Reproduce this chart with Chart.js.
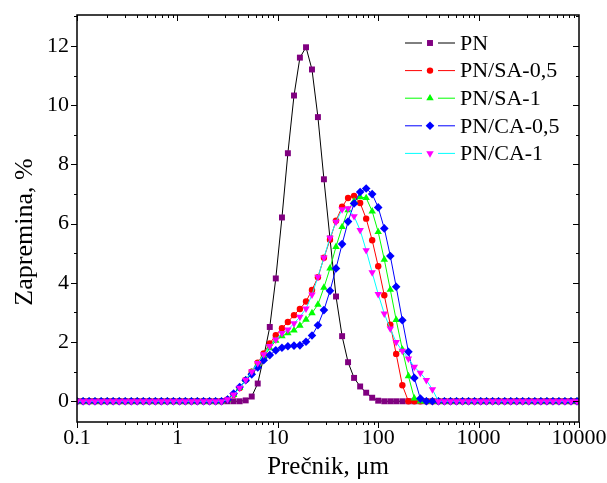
<!DOCTYPE html>
<html>
<head>
<meta charset="utf-8">
<script src="https://cdn.jsdelivr.net/npm/chart.js@4/dist/chart.umd.min.js"></script>
<style>
  body { margin: 0; background: #fff; }
  canvas { display: block; }
</style>
</head>
<body>
<canvas id="sizeChart" width="607" height="483"></canvas>
<script>
// particle size classes, um
const sizes = [
  0.1, 0.115, 0.132, 0.151, 0.174, 0.2, 0.229, 0.263, 0.302, 0.347,
  0.398, 0.457, 0.525, 0.603, 0.692, 0.794, 0.912, 1.05, 1.2, 1.38,
  1.58, 1.82, 2.09, 2.4, 2.75, 3.16, 3.63, 4.17, 4.79, 5.5,
  6.31, 7.24, 8.32, 9.55, 11, 12.6, 14.5, 16.6, 19.1, 21.9,
  25.1, 28.8, 33.1, 38, 43.7, 50.1, 57.5, 66.1, 75.9, 87.1,
  100, 115, 132, 151, 174, 200, 229, 263, 302, 347,
  398, 457, 525, 603, 692, 794, 912, 1050, 1200, 1380,
  1580, 1820, 2090, 2400, 2750, 3160, 3630, 4170, 4790, 5500,
  6310, 7240, 8320, 9550
];

// volume, %
const pn = [
  0, 0, 0, 0, 0, 0, 0, 0, 0, 0,
  0, 0, 0, 0, 0, 0, 0, 0, 0, 0,
  0, 0, 0, 0, 0, 0, 0, 0, 0.03, 0.16,
  0.6, 1.5, 2.51, 4.15, 6.21, 8.38, 10.33, 11.61, 11.96, 11.21,
  9.6, 7.5, 5.5, 3.54, 2.2, 1.32, 0.79, 0.5, 0.29, 0.12,
  0.02, 0, 0, 0, 0, 0, 0, 0, 0, 0,
  0, 0, 0, 0, 0, 0, 0, 0, 0, 0,
  0, 0, 0, 0, 0, 0, 0, 0, 0, 0,
  0, 0, 0, 0
];
const pnSa05 = [
  0, 0, 0, 0, 0, 0, 0, 0, 0, 0,
  0, 0, 0, 0, 0, 0, 0, 0, 0, 0,
  0, 0, 0, 0, 0, 0.06, 0.22, 0.45, 0.72, 1.0,
  1.3, 1.62, 1.95, 2.23, 2.47, 2.68, 2.91, 3.12, 3.37, 3.76,
  4.19, 4.85, 5.46, 6.1, 6.57, 6.87, 6.94, 6.7, 6.17, 5.44,
  4.56, 3.58, 2.59, 1.6, 0.54, 0, 0, 0, 0, 0,
  0, 0, 0, 0, 0, 0, 0, 0, 0, 0,
  0, 0, 0, 0, 0, 0, 0, 0, 0, 0,
  0, 0, 0, 0
];
const pnSa1 = [
  0, 0, 0, 0, 0, 0, 0, 0, 0, 0,
  0, 0, 0, 0, 0, 0, 0, 0, 0, 0,
  0, 0, 0, 0, 0, 0.06, 0.22, 0.45, 0.72, 0.98,
  1.25, 1.5, 1.8, 2.05, 2.2, 2.3, 2.4, 2.56, 2.76, 2.98,
  3.27, 3.84, 4.49, 5.22, 5.89, 6.46, 6.76, 6.9, 6.87, 6.42,
  5.72, 4.79, 3.77, 2.75, 1.75, 0.85, 0.1, 0, 0, 0,
  0, 0, 0, 0, 0, 0, 0, 0, 0, 0,
  0, 0, 0, 0, 0, 0, 0, 0, 0, 0,
  0, 0, 0, 0
];
const pnCa05 = [
  0, 0, 0, 0, 0, 0, 0, 0, 0, 0,
  0, 0, 0, 0, 0, 0, 0, 0, 0, 0,
  0, 0, 0, 0, 0, 0.06, 0.26, 0.48, 0.71, 0.91,
  1.14, 1.39, 1.56, 1.72, 1.81, 1.86, 1.88, 1.89, 2.01, 2.22,
  2.57, 3.08, 3.73, 4.49, 5.31, 6.07, 6.68, 7.07, 7.19, 7.0,
  6.55, 5.84, 4.91, 3.87, 2.74, 1.67, 0.79, 0.09, 0, 0,
  0, 0, 0, 0, 0, 0, 0, 0, 0, 0,
  0, 0, 0, 0, 0, 0, 0, 0, 0, 0,
  0, 0, 0, 0
];
const pnCa1 = [
  0, 0, 0, 0, 0, 0, 0, 0, 0, 0,
  0, 0, 0, 0, 0, 0, 0, 0, 0, 0,
  0, 0, 0, 0, 0, 0.06, 0.22, 0.45, 0.72, 1.0,
  1.29, 1.58, 1.86, 2.08, 2.3, 2.42, 2.63, 2.85, 3.13, 3.6,
  4.2, 4.85, 5.52, 6.06, 6.48, 6.52, 6.25, 5.78, 5.1, 4.35,
  3.62, 2.96, 2.45, 2.0, 1.7, 1.44, 1.16, 0.96, 0.71, 0.4,
  0, 0, 0, 0, 0, 0, 0, 0, 0, 0,
  0, 0, 0, 0, 0, 0, 0, 0, 0, 0,
  0, 0, 0, 0
];

const xTicks = [0.1, 1, 10, 100, 1000, 10000];
const xTickLabels = ['0.1', '1', '10', '100', '1000', '10000'];
const yTicks = [0, 2, 4, 6, 8, 10, 12];
const yTitle = 'Zapremina, %';

const FONT = "'Liberation Serif', 'Times New Roman', serif";

const series = [
  { label: 'PN',        data: pn,     line: '#000000', marker: '#800080', shape: 'square' },
  { label: 'PN/SA-0,5', data: pnSa05, line: '#ff0000', marker: '#ff0000', shape: 'circle' },
  { label: 'PN/SA-1',   data: pnSa1,  line: '#00ff00', marker: '#00ff00', shape: 'triangle' },
  { label: 'PN/CA-0,5', data: pnCa05, line: '#0000ff', marker: '#0000ff', shape: 'diamond' },
  { label: 'PN/CA-1',   data: pnCa1,  line: '#00ffff', marker: '#ff00ff', shape: 'down' }
];

const chartStyles = {
  square:   { pointStyle: 'rect', radius: 4.2, rotation: 0 },
  circle:   { pointStyle: 'circle', radius: 3.2, rotation: 0 },
  triangle: { pointStyle: 'triangle', radius: 4.3, rotation: 0 },
  diamond:  { pointStyle: 'rectRot', radius: 4.3, rotation: 0 },
  down:     { pointStyle: 'triangle', radius: 4.3, rotation: 180 }
};

function drawMarker(ctx, shape, x, y, color) {
  const s = chartStyles[shape];
  const r = s.radius;
  ctx.fillStyle = color;
  ctx.beginPath();
  if (shape === 'square') {
    const h = r * Math.SQRT1_2;
    ctx.rect(x - h, y - h, 2 * h, 2 * h);
  } else if (shape === 'circle') {
    ctx.arc(x, y, r, 0, Math.PI * 2);
  } else if (shape === 'triangle') {
    ctx.moveTo(x, y - r);
    ctx.lineTo(x + r * 0.866, y + r * 0.5);
    ctx.lineTo(x - r * 0.866, y + r * 0.5);
  } else if (shape === 'down') {
    ctx.moveTo(x, y + r);
    ctx.lineTo(x + r * 0.866, y - r * 0.5);
    ctx.lineTo(x - r * 0.866, y - r * 0.5);
  } else {
    ctx.moveTo(x, y - r);
    ctx.lineTo(x + r, y);
    ctx.lineTo(x, y + r);
    ctx.lineTo(x - r, y);
  }
  ctx.closePath();
  ctx.fill();
}

// frame, tick marks, y title and legend
const framePlugin = {
  id: 'frame',
  afterDraw(chart) {
    const { ctx, chartArea: a, scales: { x, y } } = chart;
    ctx.save();
    ctx.strokeStyle = '#000';
    ctx.lineWidth = 1.5;
    ctx.strokeRect(a.left, a.top, a.right - a.left, a.bottom - a.top);

    ctx.lineWidth = 1;
    ctx.beginPath();
    // x ticks, bottom outward, top inward
    for (let d = 0.1; d < 10000; d *= 10) {
      for (let m = 1; m < 10; m++) {
        const v = d * m;
        const px = Math.round(x.getPixelForValue(v)) + 0.5;
        const len = m === 1 ? 6 : 3;
        ctx.moveTo(px, a.bottom); ctx.lineTo(px, a.bottom + len);
        ctx.moveTo(px, a.top); ctx.lineTo(px, a.top + len);
      }
    }
    const pxEnd = Math.round(x.getPixelForValue(10000)) + 0.5;
    ctx.moveTo(pxEnd, a.bottom); ctx.lineTo(pxEnd, a.bottom + 6);
    // y ticks, left outward, right inward
    for (let v = 0; v <= 13; v++) {
      const py = Math.round(y.getPixelForValue(v)) + 0.5;
      const len = v % 2 === 0 ? 6 : 3;
      ctx.moveTo(a.left - len, py); ctx.lineTo(a.left, py);
      ctx.moveTo(a.right - len, py); ctx.lineTo(a.right, py);
    }
    ctx.stroke();

    // y axis title
    ctx.save();
    ctx.translate(25, 232);
    ctx.rotate(-Math.PI / 2);
    ctx.font = '26px ' + FONT;
    ctx.fillStyle = '#000';
    ctx.textAlign = 'center';
    ctx.textBaseline = 'middle';
    ctx.fillText(yTitle, 0, 0);
    ctx.restore();

    // legend
    ctx.font = '22px ' + FONT;
    ctx.textBaseline = 'middle';
    ctx.textAlign = 'left';
    series.forEach((s, i) => {
      const ly = 43 + i * 27.6;
      ctx.strokeStyle = s.line;
      ctx.lineWidth = 1;
      ctx.beginPath();
      ctx.moveTo(405, ly); ctx.lineTo(422, ly);
      ctx.moveTo(438, ly); ctx.lineTo(455, ly);
      ctx.stroke();
      drawMarker(ctx, s.shape, 430, ly, s.marker);
      ctx.fillStyle = '#000';
      ctx.fillText(s.label, 460, ly + 1);
    });
    ctx.restore();
  }
};

const ctx = document.getElementById('sizeChart');

const datasets = series.map((s, i) => {
  const st = chartStyles[s.shape];
  return {
    label: s.label,
    data: sizes.map((v, k) => ({ x: v, y: s.data[k] })),
    borderColor: s.line,
    borderWidth: 1,
    backgroundColor: s.marker,
    pointBackgroundColor: s.marker,
    pointBorderColor: s.marker,
    pointBorderWidth: 0,
    pointStyle: st.pointStyle,
    pointRadius: st.radius,
    pointRotation: st.rotation,
    tension: 0,
    fill: false,
    order: series.length - i
  };
});

new Chart(ctx, {
  type: 'line',
  data: { datasets: datasets },
  options: {
    responsive: false,
    animation: false,
    devicePixelRatio: 1,
    layout: { padding: { left: 0, right: 28, top: 15, bottom: 0 } },
    plugins: {
      legend: { display: false },
      tooltip: { enabled: false }
    },
    scales: {
      x: {
        type: 'logarithmic',
        min: 0.1,
        max: 10000,
        afterBuildTicks: (axis) => { axis.ticks = xTicks.map(v => ({ value: v })); },
        afterFit: (scale) => { scale.height = 61; scale.paddingLeft = 0; scale.paddingRight = 0; },
        grid: { display: false, drawTicks: false },
        border: { display: false },
        ticks: {
          autoSkip: false,
          maxRotation: 0,
          padding: 3,
          color: '#000',
          font: { family: FONT, size: 22 },
          callback: (v, i) => xTickLabels[i]
        },
        title: {
          display: true,
          text: 'Prečnik, μm',
          color: '#000',
          font: { family: FONT, size: 25 },
          padding: { top: 0, bottom: 1 }
        }
      },
      y: {
        min: -0.7,
        max: 13.05,
        afterBuildTicks: (axis) => { axis.ticks = yTicks.map(v => ({ value: v })); },
        afterFit: (scale) => { scale.width = 77; scale.paddingTop = 0; scale.paddingBottom = 0; },
        grid: { display: false, drawTicks: false },
        border: { display: false },
        ticks: {
          padding: 8,
          color: '#000',
          font: { family: FONT, size: 22 },
          callback: (v) => String(v)
        },
        title: { display: false }
      }
    }
  },
  plugins: [framePlugin]
});
</script>
</body>
</html>
